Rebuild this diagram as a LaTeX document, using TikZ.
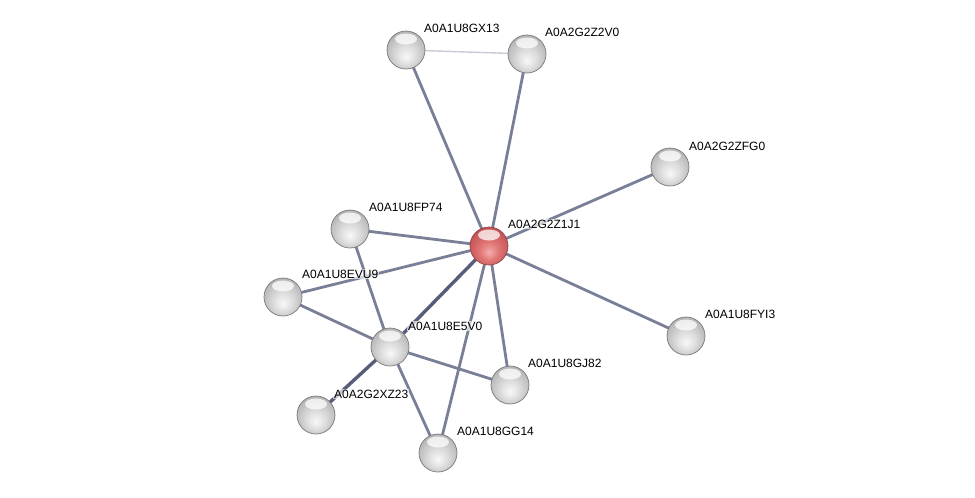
\documentclass[tikz,border=0pt]{standalone}
\usepackage{fontspec}
\setmainfont{Liberation Sans}
\definecolor{redhi}{RGB}{246,172,172}
\definecolor{redmid}{RGB}{226,118,118}
\definecolor{redlo}{RGB}{196,82,84}
\definecolor{greyhi}{RGB}{248,248,248}
\definecolor{greymid}{RGB}{222,222,222}
\definecolor{greylo}{RGB}{182,182,184}
\pgfdeclareradialshading{greyball}{\pgfpoint{0bp}{-9bp}}{color(0bp)=(greyhi); color(12bp)=(greymid); color(28bp)=(greylo); color(50bp)=(greylo)}
\pgfdeclareradialshading{redball}{\pgfpoint{0bp}{-9bp}}{color(0bp)=(redhi); color(12bp)=(redmid); color(28bp)=(redlo); color(50bp)=(redlo)}
\begin{document}
\begin{tikzpicture}[x=1pt,y=-1pt,
  protein/.style={circle,minimum size=38pt,inner sep=0pt,draw={rgb,255:red,120;green,120;blue,124},line width=0.7pt,shading=greyball,
    path picture={\shade[top color=white,bottom color=white,fill opacity=0.75] ([yshift=11pt]path picture bounding box.center) ellipse (11pt and 5.5pt);}},
  hub/.style={protein,shading=redball,draw={rgb,255:red,140;green,70;blue,72}},
  lab/.style={anchor=west,font=\fontsize{12}{14}\selectfont,inner sep=1pt,fill=white,fill opacity=0.65,text opacity=1},
  edge/.style={line width=2.8pt,draw={rgb,255:red,122;green,127;blue,152}},
  strong/.style={line width=3.4pt,draw={rgb,255:red,88;green,94;blue,122}},
  weak/.style={line width=1.4pt,draw={rgb,255:red,200;green,202;blue,212}}]
\useasboundingbox (0,0) rectangle (975,498);
\coordinate (cZ1J1) at (489,246);
\coordinate (cGX13) at (406,50);
\coordinate (cZ2V0) at (527,54);
\coordinate (cZFG0) at (670,167);
\coordinate (cFP74) at (350,229);
\coordinate (cEVU9) at (283,297);
\coordinate (cE5V0) at (390,347);
\coordinate (cGJ82) at (510,385);
\coordinate (cXZ23) at (316,415);
\coordinate (cGG14) at (438,453);
\coordinate (cFYI3) at (686,336);
% edges
\draw[weak] (cGX13) -- (cZ2V0);
\draw[edge] (cGX13) -- (cZ1J1);
\draw[edge] (cZ2V0) -- (cZ1J1);
\draw[edge] (cZFG0) -- (cZ1J1);
\draw[edge] (cFP74) -- (cZ1J1);
\draw[edge] (cFP74) -- (cE5V0);
\draw[edge] (cEVU9) -- (cZ1J1);
\draw[edge] (cEVU9) -- (cE5V0);
\draw[strong] (cE5V0) -- (cZ1J1);
\draw[edge] (cE5V0) -- (cGJ82);
\draw[strong] (cE5V0) -- (cXZ23);
\draw[edge] (cE5V0) -- (cGG14);
\draw[edge] (cZ1J1) -- (cGJ82);
\draw[edge] (cZ1J1) -- (cGG14);
\draw[edge] (cZ1J1) -- (cFYI3);
% nodes
\node[protein] (GX13) at (cGX13) {};
\node[protein] (Z2V0) at (cZ2V0) {};
\node[protein] (ZFG0) at (cZFG0) {};
\node[protein] (FP74) at (cFP74) {};
\node[protein] (EVU9) at (cEVU9) {};
\node[protein] (E5V0) at (cE5V0) {};
\node[protein] (GJ82) at (cGJ82) {};
\node[protein] (XZ23) at (cXZ23) {};
\node[protein] (GG14) at (cGG14) {};
\node[protein] (FYI3) at (cFYI3) {};
\node[hub] (Z1J1) at (cZ1J1) {};
% labels
\node[lab] (lGX13) at (423,28) {A0A1U8GX13};
\node[lab] (lZ2V0) at (544,32) {A0A2G2Z2V0};
\node[lab] (lZFG0) at (688,146) {A0A2G2ZFG0};
\node[lab] (lFP74) at (368,207) {A0A1U8FP74};
\node[lab] (lZ1J1) at (507,224) {A0A2G2Z1J1};
\node[lab] (lEVU9) at (301,274) {A0A1U8EVU9};
\node[lab] (lE5V0) at (407,326) {A0A1U8E5V0};
\node[lab] (lGJ82) at (527,363) {A0A1U8GJ82};
\node[lab] (lXZ23) at (333,394) {A0A2G2XZ23};
\node[lab] (lGG14) at (456,431) {A0A1U8GG14};
\node[lab] (lFYI3) at (704,314) {A0A1U8FYI3};
\end{tikzpicture}
\end{document}
